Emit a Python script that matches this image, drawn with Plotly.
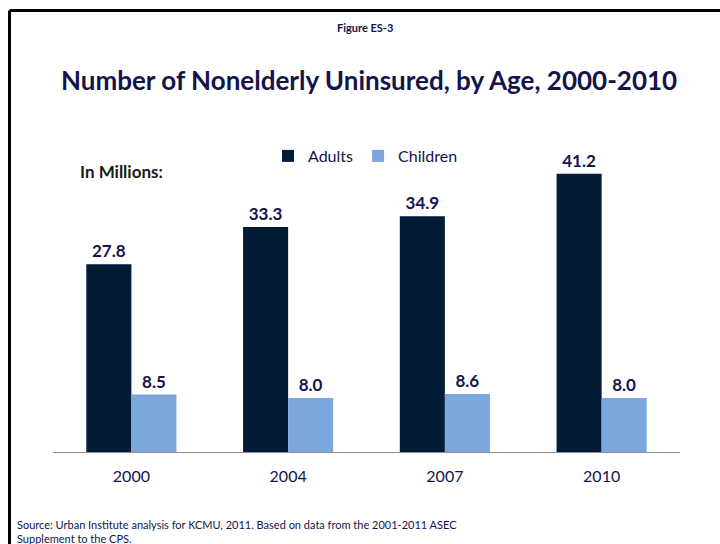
import plotly.graph_objects as go

# Uninsured nonelderly, in millions
years = ["2000", "2004", "2007", "2010"]
adults = [27.8, 33.3, 34.9, 41.2]
children = [8.5, 8.0, 8.6, 8.0]

NAVY_TEXT = "#14144b"
ADULT_COLOR = "#021b36"
CHILD_COLOR = "#7ba7dc"
FONT = "Lato"

W, H = 720, 544
L, R, T, B = 53, 40, 148, 92


def px_x(px):
    return (px - L) / (W - L - R)


def px_y(py):
    return (H - B - py) / (H - T - B)


fig = go.Figure()
fig.add_trace(go.Bar(
    name="Adults", x=years, y=adults,
    marker=dict(color=ADULT_COLOR, line=dict(width=0)),
    text=[f"{v:.1f}" for v in adults], textposition="outside",
    textfont=dict(family=FONT, size=17, color=NAVY_TEXT, weight="bold"),
    cliponaxis=False,
))
fig.add_trace(go.Bar(
    name="Children", x=years, y=children,
    marker=dict(color=CHILD_COLOR, line=dict(width=0)),
    text=[f"{v:.1f}" for v in children], textposition="outside",
    textfont=dict(family=FONT, size=17, color=NAVY_TEXT, weight="bold"),
    cliponaxis=False,
))

fig.update_layout(
    width=W, height=H,
    margin=dict(l=L, r=R, t=T, b=B),
    paper_bgcolor="white", plot_bgcolor="white",
    barmode="group", bargap=0.425, bargroupgap=0,
    font=dict(family=FONT, color=NAVY_TEXT),
    showlegend=True,
    legend=dict(
        orientation="h", x=px_x(268), y=px_y(139), xanchor="left", yanchor="top",
        font=dict(family=FONT, size=16, color=NAVY_TEXT),
        bgcolor="rgba(0,0,0,0)", itemwidth=30, tracegroupgap=0,
    ),
    xaxis=dict(
        showline=True, linecolor="#8c8c8c", linewidth=1,
        ticks="", showgrid=False, zeroline=False,
        tickfont=dict(family=FONT, size=16, color=NAVY_TEXT),
        ticklabelstandoff=10,
    ),
    yaxis=dict(
        range=[0, 45], visible=False, showgrid=False, zeroline=False,
    ),
)

annotations = [
    dict(text="<b>Figure ES-3</b>", x=px_x(365), y=px_y(27),
         font=dict(family=FONT, size=11, color=NAVY_TEXT)),
    dict(text="<b>Number of Nonelderly Uninsured, by Age, 2000-2010</b>",
         x=px_x(369), y=px_y(80),
         font=dict(family=FONT, size=26, color=NAVY_TEXT)),
    dict(text="<b>In Millions:</b>", x=px_x(78), y=px_y(171), xanchor="left",
         font=dict(family=FONT, size=17, color="#1a1a1a")),
    dict(text="Source: Urban Institute analysis for KCMU, 2011. Based on data from the 2001-2011 ASEC"
              "<br>Supplement to the CPS.",
         x=px_x(15), y=px_y(515.5), xanchor="left", yanchor="top", align="left",
         font=dict(family=FONT, size=11, color=NAVY_TEXT)),
]
for a in annotations:
    a.setdefault("xanchor", "center")
    a.setdefault("yanchor", "middle")
    fig.add_annotation(xref="paper", yref="paper", showarrow=False, **a)

# Frame along the top and left edges
fig.add_shape(type="line", xref="paper", yref="paper",
              x0=px_x(9.5), x1=px_x(720), y0=px_y(10.5), y1=px_y(10.5),
              line=dict(color="black", width=3))
fig.add_shape(type="line", xref="paper", yref="paper",
              x0=px_x(9.5), x1=px_x(9.5), y0=px_y(10.5), y1=px_y(544),
              line=dict(color="black", width=3))

fig.write_html("out.html")
